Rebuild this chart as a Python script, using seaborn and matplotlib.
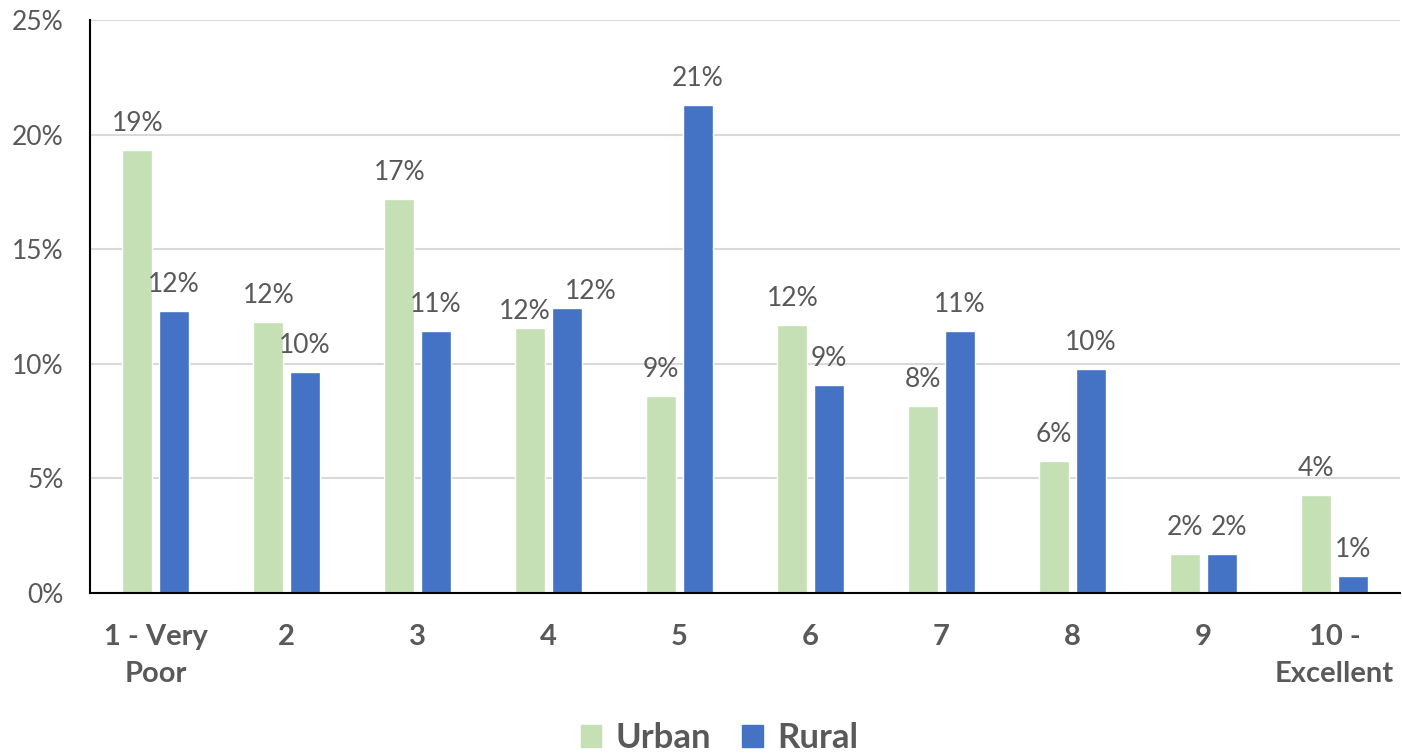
import matplotlib
matplotlib.use("Agg")
import matplotlib.pyplot as plt
import seaborn as sns
import pandas as pd
from matplotlib.ticker import FuncFormatter

# ------------ Data ------------ #
categories = ["1 - Very\nPoor", "2", "3", "4", "5", "6", "7", "8", "9", "10 -\nExcellent"]
urban = [19.33, 11.82, 17.19, 11.55, 8.60, 11.69, 8.16, 5.76, 1.70, 4.28]
rural = [12.32, 9.64, 11.45, 12.43, 21.29, 9.08, 11.45, 9.77, 1.70, 0.74]
groups = ["Urban", "Rural"]
colors = ["#C5E0B4", "#4472C4"]

df = pd.DataFrame({
    "Rating": categories * 2,
    "Group": ["Urban"] * len(categories) + ["Rural"] * len(categories),
    "Share": urban + rural,
})

sns.set_theme(style="white")
plt.rcParams["font.family"] = ["Lato", "DejaVu Sans"]
text_color = "#595959"

fig = plt.figure(figsize=(14.02, 7.53), dpi=100)
ax = fig.add_axes([0.0642, 0.2125, 0.9344, 0.7609])

sns.barplot(data=df, x="Rating", y="Share", hue="Group", hue_order=groups,
            palette=colors, width=0.557, gap=0.18, saturation=1, ax=ax,
            legend=False, order=categories)

ax.set_ylim(0, 25)
ax.set_xlim(-0.5, len(categories) - 0.5)
ax.set_yticks(range(0, 26, 5))
ax.yaxis.set_major_formatter(FuncFormatter(lambda v, p: f"{v:.0f}%"))
ax.grid(axis="y", color="#D9D9D9", linewidth=1.5)
ax.set_axisbelow(True)
ax.set_xlabel("")
ax.set_ylabel("")

for side in ["top", "right"]:
    ax.spines[side].set_visible(False)
for side in ["left", "bottom"]:
    ax.spines[side].set_color("black")
    ax.spines[side].set_linewidth(1.5)

ax.tick_params(axis="y", length=0, pad=19, labelsize=19, labelcolor=text_color)
ax.tick_params(axis="x", length=0, pad=22, labelsize=21, labelcolor=text_color)
for lab in ax.get_xticklabels():
    lab.set_fontweight("bold")
    lab.set_linespacing(1.55)

# data labels (a few were nudged by hand in the original, in pixels)
nudge = {(0, 3): (-6, -10), (1, 3): (24, -10), (1, 8): (7, 0)}
for gi, (cont, vals) in enumerate(zip(ax.containers, [urban, rural])):
    anns = ax.bar_label(cont, labels=[f"{v:.0f}%" for v in vals], padding=10,
                        fontsize=19, color=text_color)
    for ci, ann in enumerate(anns):
        dx, dy = nudge.get((gi, ci), (0, 0))
        ann.xyann = (dx * 0.72, 10 + dy * 0.72)

# legend
handles = [plt.Rectangle((0, 0), 1, 1, color=c) for c in colors]
leg = fig.legend(handles, groups, loc="lower center", ncol=2, frameon=False,
                 bbox_to_anchor=(0.513, -0.043), handlelength=0.6, handleheight=0.6,
                 columnspacing=0.9, handletextpad=0.4,
                 prop={"size": 25, "weight": "bold"})
for t in leg.get_texts():
    t.set_color(text_color)

plt.savefig("out.png", dpi=100)
